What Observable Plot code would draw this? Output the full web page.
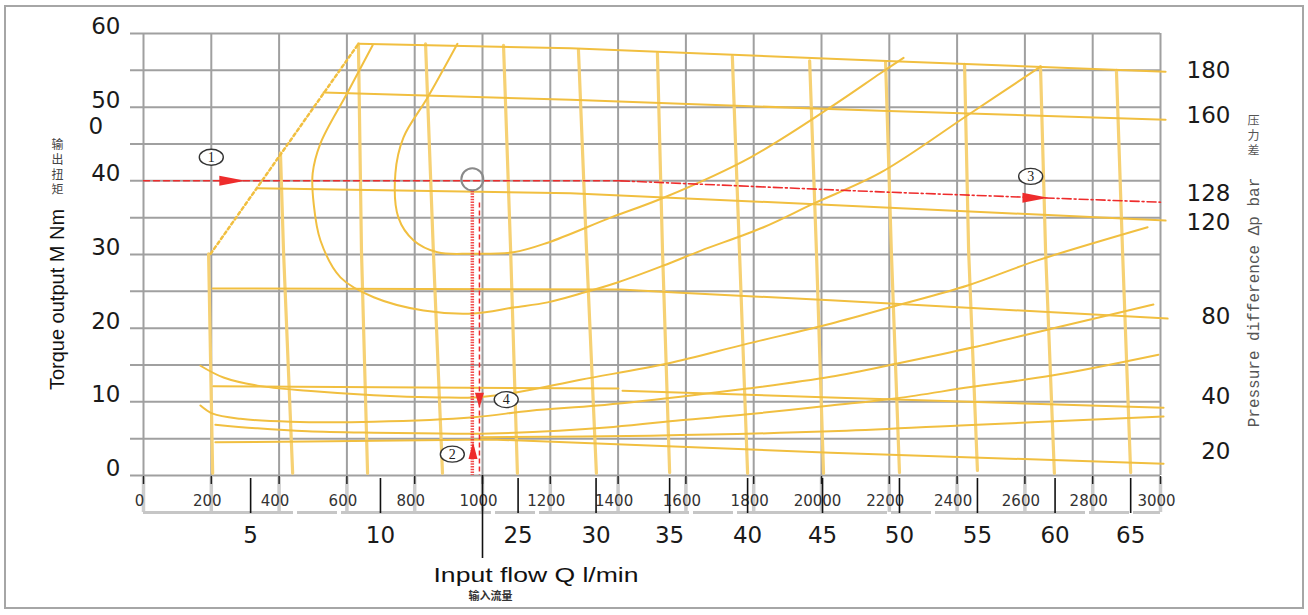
<!DOCTYPE html>
<html>
<head>
<meta charset="utf-8">
<script src="https://cdn.jsdelivr.net/npm/d3@7"></script>
<script src="https://cdn.jsdelivr.net/npm/@observablehq/plot@0.6"></script>
<style>
  html, body { margin: 0; padding: 0; background: #fff; }
  #chart { position: relative; width: 1308px; height: 615px; overflow: hidden; }
  #chart .border { position: absolute; left: 4px; top: 5px; width: 1296px; height: 600px; border: 2px solid #a6a6a6; pointer-events: none; }
  #chart svg { position: absolute; left: 0; top: 0; }
</style>
</head>
<body>
<div id="chart"><div class="border"></div></div>
<script>
// ---- Axes: shaft speed n (rpm) horizontally, output torque M (Nm) vertically ----
const speedTicks = d3.range(0, 3001, 200);
const speedTickLabels = ["0", "200", "400", "600", "800", "1000", "1200", "1400", "1600",
  "1800", "20000", "2200", "2400", "2600", "2800", "3000"];
const torqueTicks = d3.range(0, 61, 5);
const torqueTickLabels = [0, 10, 20, 30, 40, 50, 60];

// Input flow Q (l/min) scale printed under the speed scale, and where each tick sits (rpm)
const flowValues = [5, 10, 25, 30, 35, 40, 45, 50, 55, 60, 65];
const flowTickSpeeds = [316, 699, 1105, 1335, 1552, 1782, 2003, 2230, 2460, 2689, 2912];
const flowPointer = 1000;

// Pressure difference scale on the right (bar) and the torque where each label sits
const pressureTickLabels = [180, 160, 128, 120, 80, 40, 20];
const pressureTickTorque = [55.0, 48.9, 38.3, 34.3, 21.5, 10.7, 3.3];

// Constant-flow lines, [n rpm, M Nm]
const flowQ = [5, 10, 15, 20, 25, 30, 35, 40, 45, 50, 55, 60, 65];
const flowLines = [
  [[192, 30.1], [204, 0.3]],
  [[404, 43.8], [413, 30.5], [440, 0.3]],
  [[634, 58.6], [643, 30.5], [661, 0.3]],
  [[832, 58.6], [855, 30.5], [882, 0.3]],
  [[1062, 58.4], [1083, 30.5], [1103, 0.3]],
  [[1283, 57.8], [1307, 30.5], [1336, 0.3]],
  [[1516, 57.3], [1531, 30.5], [1552, 0.4]],
  [[1737, 56.9], [1758, 30.5], [1782, 0.3]],
  [[1965, 56.3], [1985, 30.5], [2006, 0.3]],
  [[2189, 56.2], [2206, 30.5], [2230, 0.4]],
  [[2422, 55.8], [2434, 30.5], [2460, 0.7]],
  [[2646, 55.5], [2661, 30.5], [2687, 0.3]],
  [[2870, 55.0], [2888, 30.5], [2912, 0.4]]
];

// Constant-pressure lines, [n rpm, M Nm]
const p180 = [[634, 58.6], [1260, 58.0], [2174, 56.3], [3015, 54.8]];
const p160 = [[531, 52.0], [1260, 51.0], [2174, 49.5], [3015, 48.3]];
const p120 = [[336, 39.0], [1260, 38.3], [1997, 36.8], [3015, 34.6]];
const p80 = [[204, 25.4], [1407, 25.25], [1584, 24.8], [2027, 23.8], [3021, 21.3]];
const p40a = [[206, 12.1], [1401, 11.8]];
const p40b = [[1413, 11.5], [2027, 10.6], [3009, 9.2]];
const p20 = [[212, 4.5], [484, 4.6], [1024, 4.9], [2027, 3.1], [3009, 1.6]];
const pressureLines = [p180, p160, p120, p80, p40a, p40b, p20];
const pressureLineBar = [180, 160, 120, 80, 40, 40, 20];

// Maximum-torque boundary (dotted)
const maxBoundary = [[198, 30.1], [634, 58.6]];

// Efficiency / characteristic curves
const curveE1 = [[926, 58.6], [838, 51.3], [767, 45.9], [743, 41.0], [752, 35.0], [797, 31.9],
  [867, 30.3], [965, 30.1], [1091, 30.3], [1192, 31.6], [1378, 35.0], [1534, 37.7],
  [1791, 43.2], [2027, 50.0], [2174, 54.6], [2242, 56.7]];
const curveE2 = [[676, 58.4], [602, 52.0], [522, 45.1], [499, 41.0], [502, 36.9], [522, 31.9],
  [581, 26.9], [679, 24.2], [826, 22.4], [974, 22.0], [1091, 22.8], [1192, 23.5],
  [1289, 24.7], [1398, 26.2], [1534, 28.5], [1643, 30.5], [1829, 33.7], [1976, 36.9],
  [2174, 41.1], [2431, 48.9], [2646, 55.5]];
const curveA = [[168, 14.9], [236, 13.3], [336, 12.2], [484, 11.5], [679, 10.9], [876, 10.6],
  [974, 10.6], [1103, 11.3], [1289, 13.0], [1546, 15.2], [1782, 17.9], [2027, 20.6],
  [2224, 23.1], [2431, 25.8], [2637, 29.2], [2962, 33.7]];
const curveB = [[168, 9.5], [204, 8.4], [286, 7.7], [434, 7.3], [679, 7.3], [974, 7.9],
  [1142, 8.8], [1339, 9.5], [1584, 10.7], [1782, 11.8], [2027, 13.4], [2224, 15.2],
  [2448, 17.4], [2684, 20.0], [2979, 23.2]];
const curveC = [[212, 6.9], [336, 6.4], [484, 6.0], [679, 5.8], [876, 5.7], [1024, 5.7],
  [1386, 6.6], [1584, 7.5], [1782, 8.3], [2027, 9.5], [2224, 10.5], [2440, 12.0],
  [2684, 13.6], [2994, 16.4]];
const curveD = [[994, 5.2], [1496, 5.4], [2027, 6.0], [2410, 6.8], [3009, 8.0]];
const curves = [curveE1, curveE2, curveA, curveB, curveC, curveD];

// Worked example: 40 Nm read across, down to the flow and pressure scales
const guideFlat = [[0, 40], [1407, 40]];
const guideSlope = [[1407, 40], [2174, 38.5], [3000, 37.1]];
const guideDrops = [{n: 970, top: 38.6}];
const guideDropsDashed = [{n: 991, top: 37.0}];
const operatingPoint = [{n: 970, m: 40.2}];
const arrowsRight = [{n: 262, m: 40}, {n: 2631, m: 37.7}];
const arrowsDown = [{n: 991, m: 10.2}];
const arrowsUp = [{n: 972, m: 3.4}];
const calloutLabels = ["1", "2", "3", "4"];
const calloutN = [200, 911, 2617, 1070];
const calloutM = [43.2, 2.9, 40.6, 10.3];

// ---- Layout ----
const W = 1308, H = 615;
const M_LEFT = 143, M_RIGHT = 148, M_TOP = 33, M_BOTTOM = 140;
const NM_PER_PX = 60 / (H - M_TOP - M_BOTTOM);
const RPM_PER_PX = 3000 / (W - M_LEFT - M_RIGHT);
const below = px => -px * NM_PER_PX;   // torque value that lies px pixels under the axis
const leftOf = px => -px * RPM_PER_PX; // speed value that lies px pixels left of the axis

const GRID = "#a0a0a0";
const YELLOW = "#f1bf40";
const YELLOW_LIGHT = "#f6d174";
const RED = "#ee2c2c";
const NUM_FONT = "DejaVu Sans";
const FLOW_TITLE = "Input flow Q l/min";

const toRows = (lines, keys) => lines.flatMap((pts, i) =>
  pts.map(([n, m]) => ({id: i, key: keys ? keys[i] : i, n, m})));

function ellipseSymbol(rx, ry) {
  const k = 0.5523;
  return {draw(ctx) {
    ctx.moveTo(rx, 0);
    ctx.bezierCurveTo(rx, ry * k, rx * k, ry, 0, ry);
    ctx.bezierCurveTo(-rx * k, ry, -rx, ry * k, -rx, 0);
    ctx.bezierCurveTo(-rx, -ry * k, -rx * k, -ry, 0, -ry);
    ctx.bezierCurveTo(rx * k, -ry, rx, -ry * k, rx, 0);
    ctx.closePath();
  }};
}
function arrowSymbol(dir, len, half) {
  return {draw(ctx) {
    const L = len / 2;
    if (dir === "right") { ctx.moveTo(L, 0); ctx.lineTo(-L, -half); ctx.lineTo(-L, half); }
    if (dir === "down") { ctx.moveTo(0, L); ctx.lineTo(-half, -L); ctx.lineTo(half, -L); }
    if (dir === "up") { ctx.moveTo(0, -L); ctx.lineTo(-half, L); ctx.lineTo(half, L); }
    ctx.closePath();
  }};
}

const callouts = calloutLabels.map((label, i) => ({label, n: calloutN[i], m: calloutM[i]}));

const svg = Plot.plot({
  width: W, height: H,
  marginLeft: M_LEFT, marginRight: M_RIGHT, marginTop: M_TOP, marginBottom: M_BOTTOM,
  x: {domain: [0, 3000], axis: null},
  y: {domain: [0, 60], axis: null},
  style: {background: "transparent", overflow: "visible", fontFamily: NUM_FONT},
  marks: [
    // grid with tick stubs on the left
    Plot.ruleX(speedTicks, {x: d => d, y1: 0, y2: 60, stroke: GRID, strokeWidth: 2}),
    Plot.ruleY(torqueTicks, {y: d => d, x1: leftOf(13), x2: 3000, stroke: GRID, strokeWidth: 2}),

    // speed scale under the axis
    Plot.ruleX(speedTicks, {x: d => d, y1: below(2), y2: below(37), stroke: "#cdcdcd", strokeWidth: 3.5}),
    Plot.ruleY([below(37)], {y: d => d, x1: 0, x2: 3000, stroke: "#c6c6c6", strokeWidth: 3, strokeDasharray: "150,4,40,4"}),
    Plot.ruleX(speedTicks, {x: d => d, y1: below(1), y2: below(9), stroke: "#222", strokeWidth: 1.5}),
    Plot.text(speedTicks, {x: d => d, y: 0, text: (d, i) => speedTickLabels[i], dy: 26, dx: -4,
      fontSize: 15, fill: "#333", fontFamily: NUM_FONT}),

    // flow scale
    Plot.ruleX(flowTickSpeeds, {x: d => d, y1: below(3), y2: below(38), stroke: "#111", strokeWidth: 1.6}),
    Plot.ruleX([flowPointer], {x: d => d, y1: 0, y2: below(83), stroke: "#111", strokeWidth: 1.6}),
    Plot.text(flowValues, {x: (d, i) => flowTickSpeeds[i], y: 0, text: d => String(d), dy: 60,
      fontSize: 23, fill: "#1a1a1a", fontFamily: NUM_FONT}),
    Plot.text([flowPointer], {x: d => d, y: 0, text: () => FLOW_TITLE, dx: -49, dy: 100,
      textAnchor: "start", fontSize: 21, fill: "#111", fontFamily: "Liberation Sans"}),
    Plot.text([flowPointer], {x: d => d, y: 0, text: () => "输入流量", dx: 8, dy: 121,
      fontSize: 11, fontWeight: "bold", fill: "#333", fontFamily: "Noto Sans CJK SC"}),

    // constant-flow lines
    Plot.line(toRows(flowLines, flowQ), {x: "n", y: "m", z: "id", stroke: YELLOW_LIGHT, strokeWidth: 3.2}),
    // constant-pressure lines
    Plot.line(toRows(pressureLines, pressureLineBar), {x: "n", y: "m", z: "id", stroke: YELLOW, strokeWidth: 2}),
    // maximum torque boundary
    Plot.line(maxBoundary, {x: d => d[0], y: d => d[1], stroke: YELLOW, strokeWidth: 2.5, strokeDasharray: "3,3"}),
    // characteristic curves
    Plot.line(toRows(curves), {x: "n", y: "m", z: "id", stroke: YELLOW, strokeWidth: 2, curve: "catmull-rom"}),

    // worked example
    Plot.line(guideFlat, {x: d => d[0], y: d => d[1], stroke: RED, strokeWidth: 1.5, strokeDasharray: "6,4"}),
    Plot.line(guideSlope, {x: d => d[0], y: d => d[1], stroke: RED, strokeWidth: 1.6, strokeDasharray: "9,3,2,3"}),
    Plot.ruleX(guideDrops, {x: "n", y1: "top", y2: 0, stroke: RED, strokeOpacity: 0.85, strokeWidth: 3.5, strokeDasharray: "1.5,1.2"}),
    Plot.ruleX(guideDropsDashed, {x: "n", y1: "top", y2: 0, stroke: RED, strokeWidth: 1.5, strokeDasharray: "5,3"}),
    Plot.dot(operatingPoint, {x: "n", y: "m", r: 11, stroke: "#8a8a8a", strokeWidth: 2, fill: "none"}),
    Plot.dot(arrowsRight, {x: "n", y: "m", symbol: arrowSymbol("right", 26, 5), fill: RED, stroke: "none"}),
    Plot.dot(arrowsDown, {x: "n", y: "m", symbol: arrowSymbol("down", 15, 4.5), fill: RED, stroke: "none"}),
    Plot.dot(arrowsUp, {x: "n", y: "m", symbol: arrowSymbol("up", 17, 4.5), fill: RED, stroke: "none"}),
    Plot.dot(callouts, {x: "n", y: "m", symbol: ellipseSymbol(12, 8), fill: "white", stroke: "#333", strokeWidth: 1.4}),
    Plot.text(callouts, {x: "n", y: "m", text: "label", fontSize: 14, fill: "#222", fontFamily: "Liberation Serif"}),

    // torque scale (left)
    Plot.text(torqueTickLabels, {x: 0, y: d => d, text: d => String(d), dx: -23, dy: -7,
      textAnchor: "end", fontSize: 23, fill: "#1a1a1a", fontFamily: NUM_FONT}),
    Plot.text([50], {x: 0, y: d => d, text: () => "0", dx: -55, dy: 19,
      textAnchor: "start", fontSize: 23, fill: "#1a1a1a", fontFamily: NUM_FONT}),
    Plot.text(["Torque output M Nm"], {frameAnchor: "left", textAnchor: "middle", dx: -86, dy: 45, rotate: -90,
      fontSize: 20, fill: "#111", fontFamily: "Liberation Sans"}),
    Plot.text(["输\n出\n扭\n矩"], {frameAnchor: "left", textAnchor: "middle", dx: -86, dy: -88, lineHeight: 1.25,
      fontSize: 12, fill: "#444", fontFamily: "Noto Sans CJK SC"}),

    // pressure scale (right)
    Plot.text(pressureTickLabels, {x: 3000, y: (d, i) => pressureTickTorque[i], text: d => String(d),
      dx: 70, textAnchor: "end", fontSize: 23, fill: "#1a1a1a", fontFamily: NUM_FONT}),
    Plot.text(["Pressure difference Δp bar"], {frameAnchor: "right", textAnchor: "middle", dx: 93, dy: 48, rotate: -90,
      fontSize: 16, fill: "#555", fontFamily: "Liberation Mono"}),
    Plot.text(["压\n力\n差"], {frameAnchor: "right", textAnchor: "middle", dx: 93, dy: -119, lineHeight: 1.25,
      fontSize: 12, fill: "#555", fontFamily: "Noto Sans CJK SC"})
  ]
});

// the flow caption is set wide, as printed on the chart
svg.querySelectorAll("text").forEach(t => {
  if (t.textContent === FLOW_TITLE) {
    t.setAttribute("textLength", 205);
    t.setAttribute("lengthAdjust", "spacingAndGlyphs");
  }
});

document.getElementById("chart").appendChild(svg);
</script>
</body>
</html>
